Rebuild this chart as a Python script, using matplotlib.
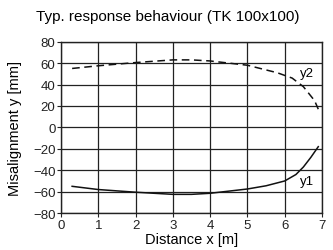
import numpy as np
import matplotlib.pyplot as plt

plt.rcParams['font.family'] = ['Liberation Sans', 'DejaVu Sans']

# Curve data
# ------------------------------
x_y1 = [0.3, 1.0, 2.0, 3.0, 3.5, 4.0, 5.0, 5.5, 6.0, 6.3, 6.5, 6.7, 6.9]
y1 = [-55, -58, -60.5, -62.5, -62.5, -61.5, -57.5, -54.5, -50, -44, -37, -28, -18]

x_y2 = [0.3, 1.0, 2.0, 3.0, 3.5, 4.0, 5.0, 5.8, 6.2, 6.5, 6.8, 6.9]
y2 = [55, 57.5, 60.5, 63, 63, 62, 58, 51, 46, 38, 25, 17]

x_ticks = [0, 1, 2, 3, 4, 5, 6, 7]
y_ticks = [-80, -60, -40, -20, 0, 20, 40, 60, 80]

# Create figure
# -------------
fig = plt.figure(figsize=(3.33, 2.51), dpi=100)
ax = fig.add_axes([0.183, 0.147, 0.784, 0.683])

ax.plot(x_y1, y1, color='#111111', lw=1.1)
ax.plot(x_y2, y2, color='#111111', lw=1.1, dashes=(5, 3))

ax.text(6.6, -50, 'y1', fontsize=9.5, ha='center', va='center')
ax.text(6.6, 50.5, 'y2', fontsize=9.5, ha='center', va='center')

# Figure labeling
# ---------------
ax.set_xlim(0, 7)
ax.set_ylim(-80, 80)
ax.set_xticks(x_ticks)
ax.set_yticks(y_ticks)
ax.tick_params(labelsize=9.5, length=3, width=0.8, pad=1, colors='#222222')
ax.grid(True, color='#222222', lw=0.9)
for s in ax.spines.values():
    s.set_color('#222222')
    s.set_linewidth(1.0)

fig.text(0.505, 0.932, 'Typ. response behaviour (TK 100x100)', fontsize=11,
         ha='center', va='center')
fig.text(0.575, 0.044, 'Distance x [m]', fontsize=10.5, ha='center', va='center')
fig.text(0.045, 0.49, 'Misalignment y [mm]', fontsize=10.5, ha='center', va='center',
         rotation=90)

# Save figure
# -----------
plt.savefig('out.png', dpi=100)
plt.close('all')
